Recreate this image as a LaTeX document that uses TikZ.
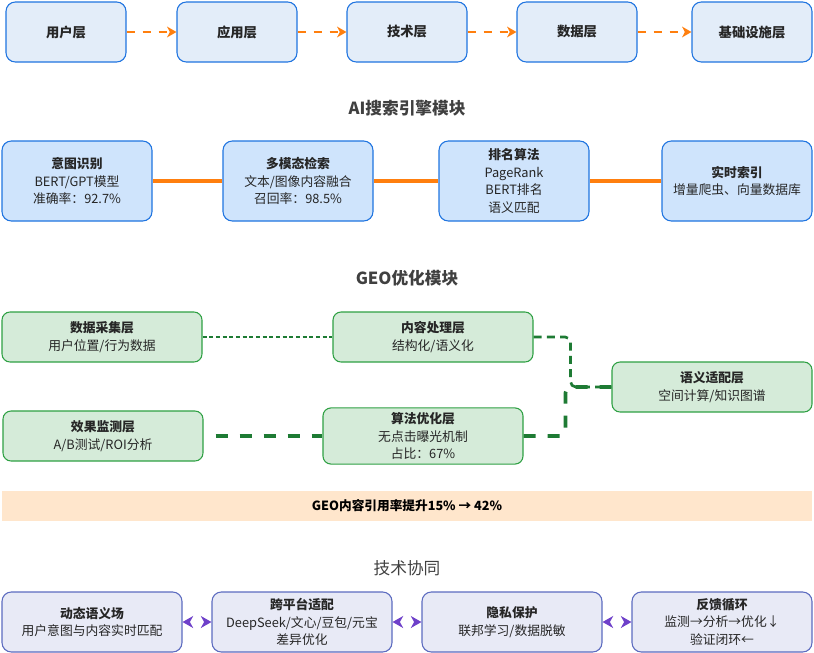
\documentclass[tikz,border=0pt]{standalone}
\usepackage{fontspec}
\setmainfont{Noto Sans CJK SC}
\usepackage{xcolor}
\usepackage{tikz}
\usetikzlibrary{arrows.meta,positioning,calc}
\definecolor{laybg}{HTML}{E3EDF9}
\definecolor{aibg}{HTML}{CFE4FC}
\definecolor{boxblue}{HTML}{1F74E0}
\definecolor{flowor}{HTML}{FF7F0E}
\definecolor{geobg}{HTML}{D5EBD9}
\definecolor{geoedge}{HTML}{2EA043}
\definecolor{geoline}{HTML}{1E7B34}
\definecolor{gainbg}{HTML}{FFE6CC}
\definecolor{colbg}{HTML}{E8EAF6}
\definecolor{coledge}{HTML}{5C6BC0}
\definecolor{colarr}{HTML}{6E40C9}
\definecolor{headgray}{HTML}{404040}
\definecolor{txtgray}{HTML}{262626}

\begin{document}
\begin{tikzpicture}[x=0.75pt,y=-0.75pt,line join=round,
  txt/.style={align=center,text=txtgray,font=\fontsize{9.6}{13.2}\selectfont},
  layerbox/.style={txt,draw=boxblue,fill=laybg,rounded corners=7pt,line width=0.8pt,
    minimum width=90pt,minimum height=45pt,font=\fontsize{10}{13}\selectfont\bfseries},
  aibox/.style={txt,draw=boxblue,fill=aibg,rounded corners=7pt,line width=0.8pt,
    minimum width=112.5pt,minimum height=60pt},
  geobox/.style={txt,draw=geoedge,fill=geobg,rounded corners=6pt,line width=0.8pt,
    minimum width=150pt,minimum height=37.5pt},
  colbox/.style={txt,draw=coledge,fill=colbg,rounded corners=7pt,line width=0.8pt,
    minimum width=135pt,minimum height=45pt},
  secttl/.style={text=headgray,font=\fontsize{12.5}{14}\selectfont\bfseries},
  flowarr/.style={flowor,line width=1.5pt,dash pattern=on 6pt off 6pt,
    -{Stealth[length=7pt,width=8pt,inset=2pt]}},
  ailine/.style={flowor,line width=2.3pt},
  colarrow/.style={colarr,line width=1pt,dash pattern=on 0pt off 8pt,
    {Stealth[length=8pt,width=9pt,inset=2.5pt]}-{Stealth[length=8pt,width=9pt,inset=2.5pt]}}]
  \useasboundingbox (0,0) rectangle (814,653);

  % --- layer chain ---
  \node[layerbox] (usr)   at (66,32)  {用户层};
  \node[layerbox] (app)   at (237,32) {应用层};
  \node[layerbox] (tech)  at (407,32) {技术层};
  \node[layerbox] (data)  at (577,32) {数据层};
  \node[layerbox] (infra) at (752,32) {基础设施层};
  \draw[flowarr] (usr) -- (app);
  \draw[flowarr] (app) -- (tech);
  \draw[flowarr] (tech) -- (data);
  \draw[flowarr] (data) -- (infra);

  % --- AI search engine module ---
  \node[secttl] (aittl) at (407,108) {AI搜索引擎模块};
  \node[aibox] (intent) at (77,181)  {\textbf{意图识别}\\BERT/GPT模型\\准确率：92.7\%};
  \node[aibox] (mmret)  at (298,181) {\textbf{多模态检索}\\文本/图像内容融合\\召回率：98.5\%};
  \node[aibox] (rank)   at (514,181) {\textbf{排名算法}\\PageRank\\BERT排名\\语义匹配};
  \node[aibox] (rtidx)  at (737,181) {\textbf{实时索引}\\增量爬虫、向量数据库};
  \draw[ailine] (intent) -- (mmret);
  \draw[ailine] (mmret) -- (rank);
  \draw[ailine] (rank) -- (rtidx);

  % --- GEO optimisation module ---
  \node[secttl] (geottl) at (407,278) {GEO优化模块};
  \node[geobox] (collect) at (102,337) {\textbf{数据采集层}\\用户位置/行为数据};
  \node[geobox] (proc)    at (433,337) {\textbf{内容处理层}\\结构化/语义化};
  \node[geobox] (sem)     at (712,387) {\textbf{语义适配层}\\空间计算/知识图谱};
  \node[geobox] (effect)  at (103,436) {\textbf{效果监测层}\\A/B测试/ROI分析};
  \node[geobox] (algo)    at (423,436) {\textbf{算法优化层}\\无点击曝光机制\\占比：67\%};
  \draw[geoline,line width=0.8pt,dash pattern=on 3pt off 2pt] (collect) -- (proc);
  \draw[geoline,line width=2pt,dash pattern=on 6pt off 4pt,rounded corners=4pt]
    (proc.east) -- ++(37,0) |- (sem.west);
  \draw[geoline,line width=2.7pt,dash pattern=on 9pt off 9pt,rounded corners=4pt]
    (algo.east) -- ++(42,0) |- (sem.west);
  \draw[geoline,line width=2.7pt,dash pattern=on 9pt off 9pt,shorten <=9pt]
    (effect) -- (algo);

  % --- result banner ---
  \node[fill=gainbg,minimum width=607.5pt,minimum height=23pt,
        font=\fontsize{9.5}{11}\selectfont\bfseries,text=black] (gain) at (407,506)
        {GEO内容引用率提升15\% → 42\%};

  % --- technical collaboration ---
  \node[text=headgray,font=\fontsize{12.5}{14}\selectfont] (colttl) at (407,568) {技术协同};
  \node[colbox] (dyn)   at (92,622)  {\textbf{动态语义场}\\用户意图与内容实时匹配};
  \node[colbox] (xplat) at (302,622) {\textbf{跨平台适配}\\DeepSeek/文心/豆包/元宝\\差异优化};
  \node[colbox] (priv)  at (512,622) {\textbf{隐私保护}\\联邦学习/数据脱敏};
  \node[colbox] (fb)    at (722,622) {\textbf{反馈循环}\\监测→分析→优化↓\\验证闭环←};
  \draw[colarrow] (dyn) -- (xplat);
  \draw[colarrow] (xplat) -- (priv);
  \draw[colarrow] (priv) -- (fb);
\end{tikzpicture}
\end{document}
